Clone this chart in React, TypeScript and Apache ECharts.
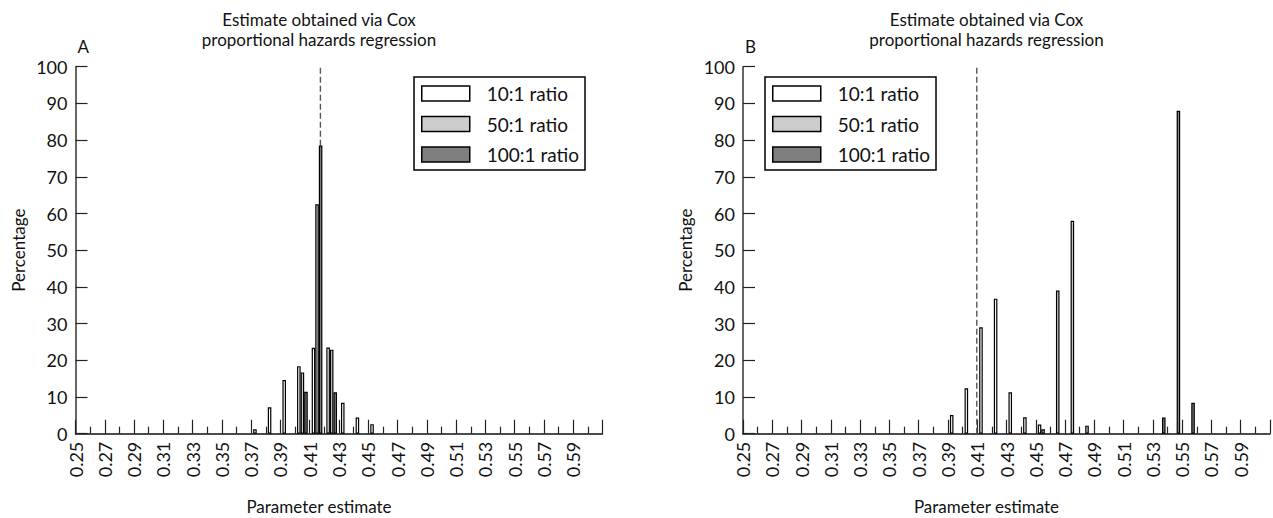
import React, { useEffect, useRef } from "react";
import * as echarts from "echarts";

// Bin starts (each bin spans 0.01)
const bins = [
  "0.25", "0.26", "0.27", "0.28", "0.29", "0.30", "0.31", "0.32", "0.33", "0.34",
  "0.35", "0.36", "0.37", "0.38", "0.39", "0.40", "0.41", "0.42", "0.43", "0.44",
  "0.45", "0.46", "0.47", "0.48", "0.49", "0.50", "0.51", "0.52", "0.53", "0.54",
  "0.55", "0.56", "0.57", "0.58", "0.59", "0.60",
];

const seriesNames = ["10:1 ratio", "50:1 ratio", "100:1 ratio"];

// Panel A (percentages per bin)
const a10: [string, number][] = [
  ["0.37", 1.2], ["0.38", 7.2], ["0.39", 14.6], ["0.40", 18.4], ["0.41", 23.4],
  ["0.42", 23.5], ["0.43", 8.4], ["0.44", 4.4], ["0.45", 2.6],
];
const a50: [string, number][] = [["0.40", 16.7], ["0.41", 62.5], ["0.42", 22.9]];
const a100: [string, number][] = [["0.40", 11.4], ["0.41", 78.5], ["0.42", 11.3]];

// Panel B
const b10: [string, number][] = [
  ["0.39", 5.1], ["0.40", 12.4], ["0.41", 29], ["0.42", 36.8], ["0.43", 11.3],
  ["0.44", 4.5], ["0.45", 2.5],
];
const b50: [string, number][] = [["0.45", 1.2], ["0.46", 39], ["0.47", 58], ["0.48", 2.2]];
const b100: [string, number][] = [["0.53", 4.4], ["0.54", 88], ["0.55", 8.4]];

// True values (dashed lines)
const trueA = 0.4173;
const trueB = 0.4097;

const titleLines = ["Estimate obtained via Cox", "proportional hazards regression"];
const panelLetters = ["A", "B"];
const xName = "Parameter estimate";
const yName = "Percentage";

const FONT = "Lato";
const fills = ["#ffffff", "#cccccc", "#7f7f7f"];

function toData(pairs: [string, number][]) {
  const m = new Map(pairs);
  return bins.map((b) => (m.has(b) ? m.get(b)! : null));
}

export default function App() {
  const ref = useRef<HTMLDivElement>(null);
  useEffect(() => {
    if (!ref.current) return;
    const chart = echarts.init(ref.current, undefined, { renderer: "svg" });
    const gridLefts = [75.5, 743];
    const gridWidth = 527;
    const panels = [
      [a10, a50, a100],
      [b10, b50, b100],
    ];
    const truth = [trueA, trueB];

    const xAxes: any[] = [];
    const yAxes: any[] = [];
    const series: any[] = [];
    const graphics: any[] = [];
    const legends: any[] = [];

    panels.forEach((p, gi) => {
      xAxes.push({
        type: "category",
        gridIndex: gi,
        data: bins,
        show: false,
        boundaryGap: true,
      });
      xAxes.push({
        type: "value",
        gridIndex: gi,
        position: "bottom",
        min: 0.25,
        max: 0.61,
        interval: 0.02,
        axisLine: { show: true, onZero: false, lineStyle: { color: "#111", width: 1.5 } },
        axisTick: { show: true, inside: true, length: 14, lineStyle: { color: "#222", width: 1.2 } },
        minorTick: { show: true, splitNumber: 2, length: 7, lineStyle: { color: "#222", width: 1.2 } },
        splitLine: { show: false },
        axisLabel: {
          rotate: 90,
          fontSize: 18,
          margin: 8,
          color: "#111",
          fontFamily: FONT,
          formatter: (v: number) => (v > 0.605 ? "" : v.toFixed(2)),
        },
      });
      yAxes.push({
        type: "value",
        gridIndex: gi,
        min: 0,
        max: 100,
        interval: 10,
        axisLine: { show: true, lineStyle: { color: "#333", width: 1.5 } },
        axisTick: { show: true, inside: true, length: 12, lineStyle: { color: "#222", width: 1.2 } },
        splitLine: { show: false },
        axisLabel: { fontSize: 18, margin: 8, color: "#111", fontFamily: FONT },
        name: yName,
        nameLocation: "middle",
        nameGap: 49,
        nameTextStyle: { fontSize: 17, color: "#111", fontFamily: FONT },
      });
      p.forEach((pairs, si) => {
        series.push({
          type: "bar",
          name: seriesNames[si],
          xAxisIndex: gi * 2,
          yAxisIndex: gi,
          data: toData(pairs),
          barGap: "0%",
          barCategoryGap: "27%",
          itemStyle: { color: fills[si], borderColor: "#000", borderWidth: 1.2 },
          z: 3,
        });
      });
      series.push({
        type: "line",
        name: "true" + gi,
        xAxisIndex: gi * 2 + 1,
        yAxisIndex: gi,
        data: [
          [truth[gi], 0],
          [truth[gi], 100],
        ],
        symbol: "none",
        lineStyle: { color: "#555", width: 1.4, type: [6, 3] },
        z: 2,
      });
      const cx = gridLefts[gi] + 243.5;
      graphics.push({
        type: "text",
        x: cx,
        y: 19,
        style: { text: titleLines[0], fontSize: 17, fontFamily: FONT, fill: "#111", align: "center", verticalAlign: "middle" },
      });
      graphics.push({
        type: "text",
        x: cx,
        y: 39,
        style: { text: titleLines[1], fontSize: 17, fontFamily: FONT, fill: "#111", align: "center", verticalAlign: "middle" },
      });
      graphics.push({
        type: "text",
        x: gridLefts[gi] + 2,
        y: 46,
        style: { text: panelLetters[gi], fontSize: 17, fontFamily: FONT, fill: "#111", align: "left", verticalAlign: "middle" },
      });
      graphics.push({
        type: "text",
        x: cx,
        y: 506,
        style: { text: xName, fontSize: 17, fontFamily: FONT, fill: "#111", align: "center", verticalAlign: "middle" },
      });
      legends.push({
        data: seriesNames,
        left: gi === 0 ? 414 : 765,
        top: 77,
        orient: "vertical",
        icon: "rect",
        itemWidth: 48,
        itemHeight: 15,
        itemGap: 11.5,
        padding: [7, 6, 6, 7],
        borderColor: "#000",
        borderWidth: 1.5,
        backgroundColor: "#fff",
        selectedMode: false,
        itemStyle: { borderColor: "#000", borderWidth: 1.5 },
        textStyle: { fontSize: 19, fontFamily: FONT, color: "#111", padding: [0, 0, 0, 12], lineHeight: 15 },
      });
    });

    chart.setOption({
      animation: false,
      backgroundColor: "#fff",
      textStyle: { fontFamily: FONT },
      grid: gridLefts.map((l) => ({ left: l, top: 66.7, width: gridWidth, height: 367 })),
      xAxis: xAxes,
      yAxis: yAxes,
      legend: legends,
      series,
      graphic: graphics,
    });
    return () => chart.dispose();
  }, []);
  return (
    <div
      ref={ref}
      style={{ position: "fixed", left: 0, top: 0, width: 1273, height: 518, background: "#fff" }}
    />
  );
}
